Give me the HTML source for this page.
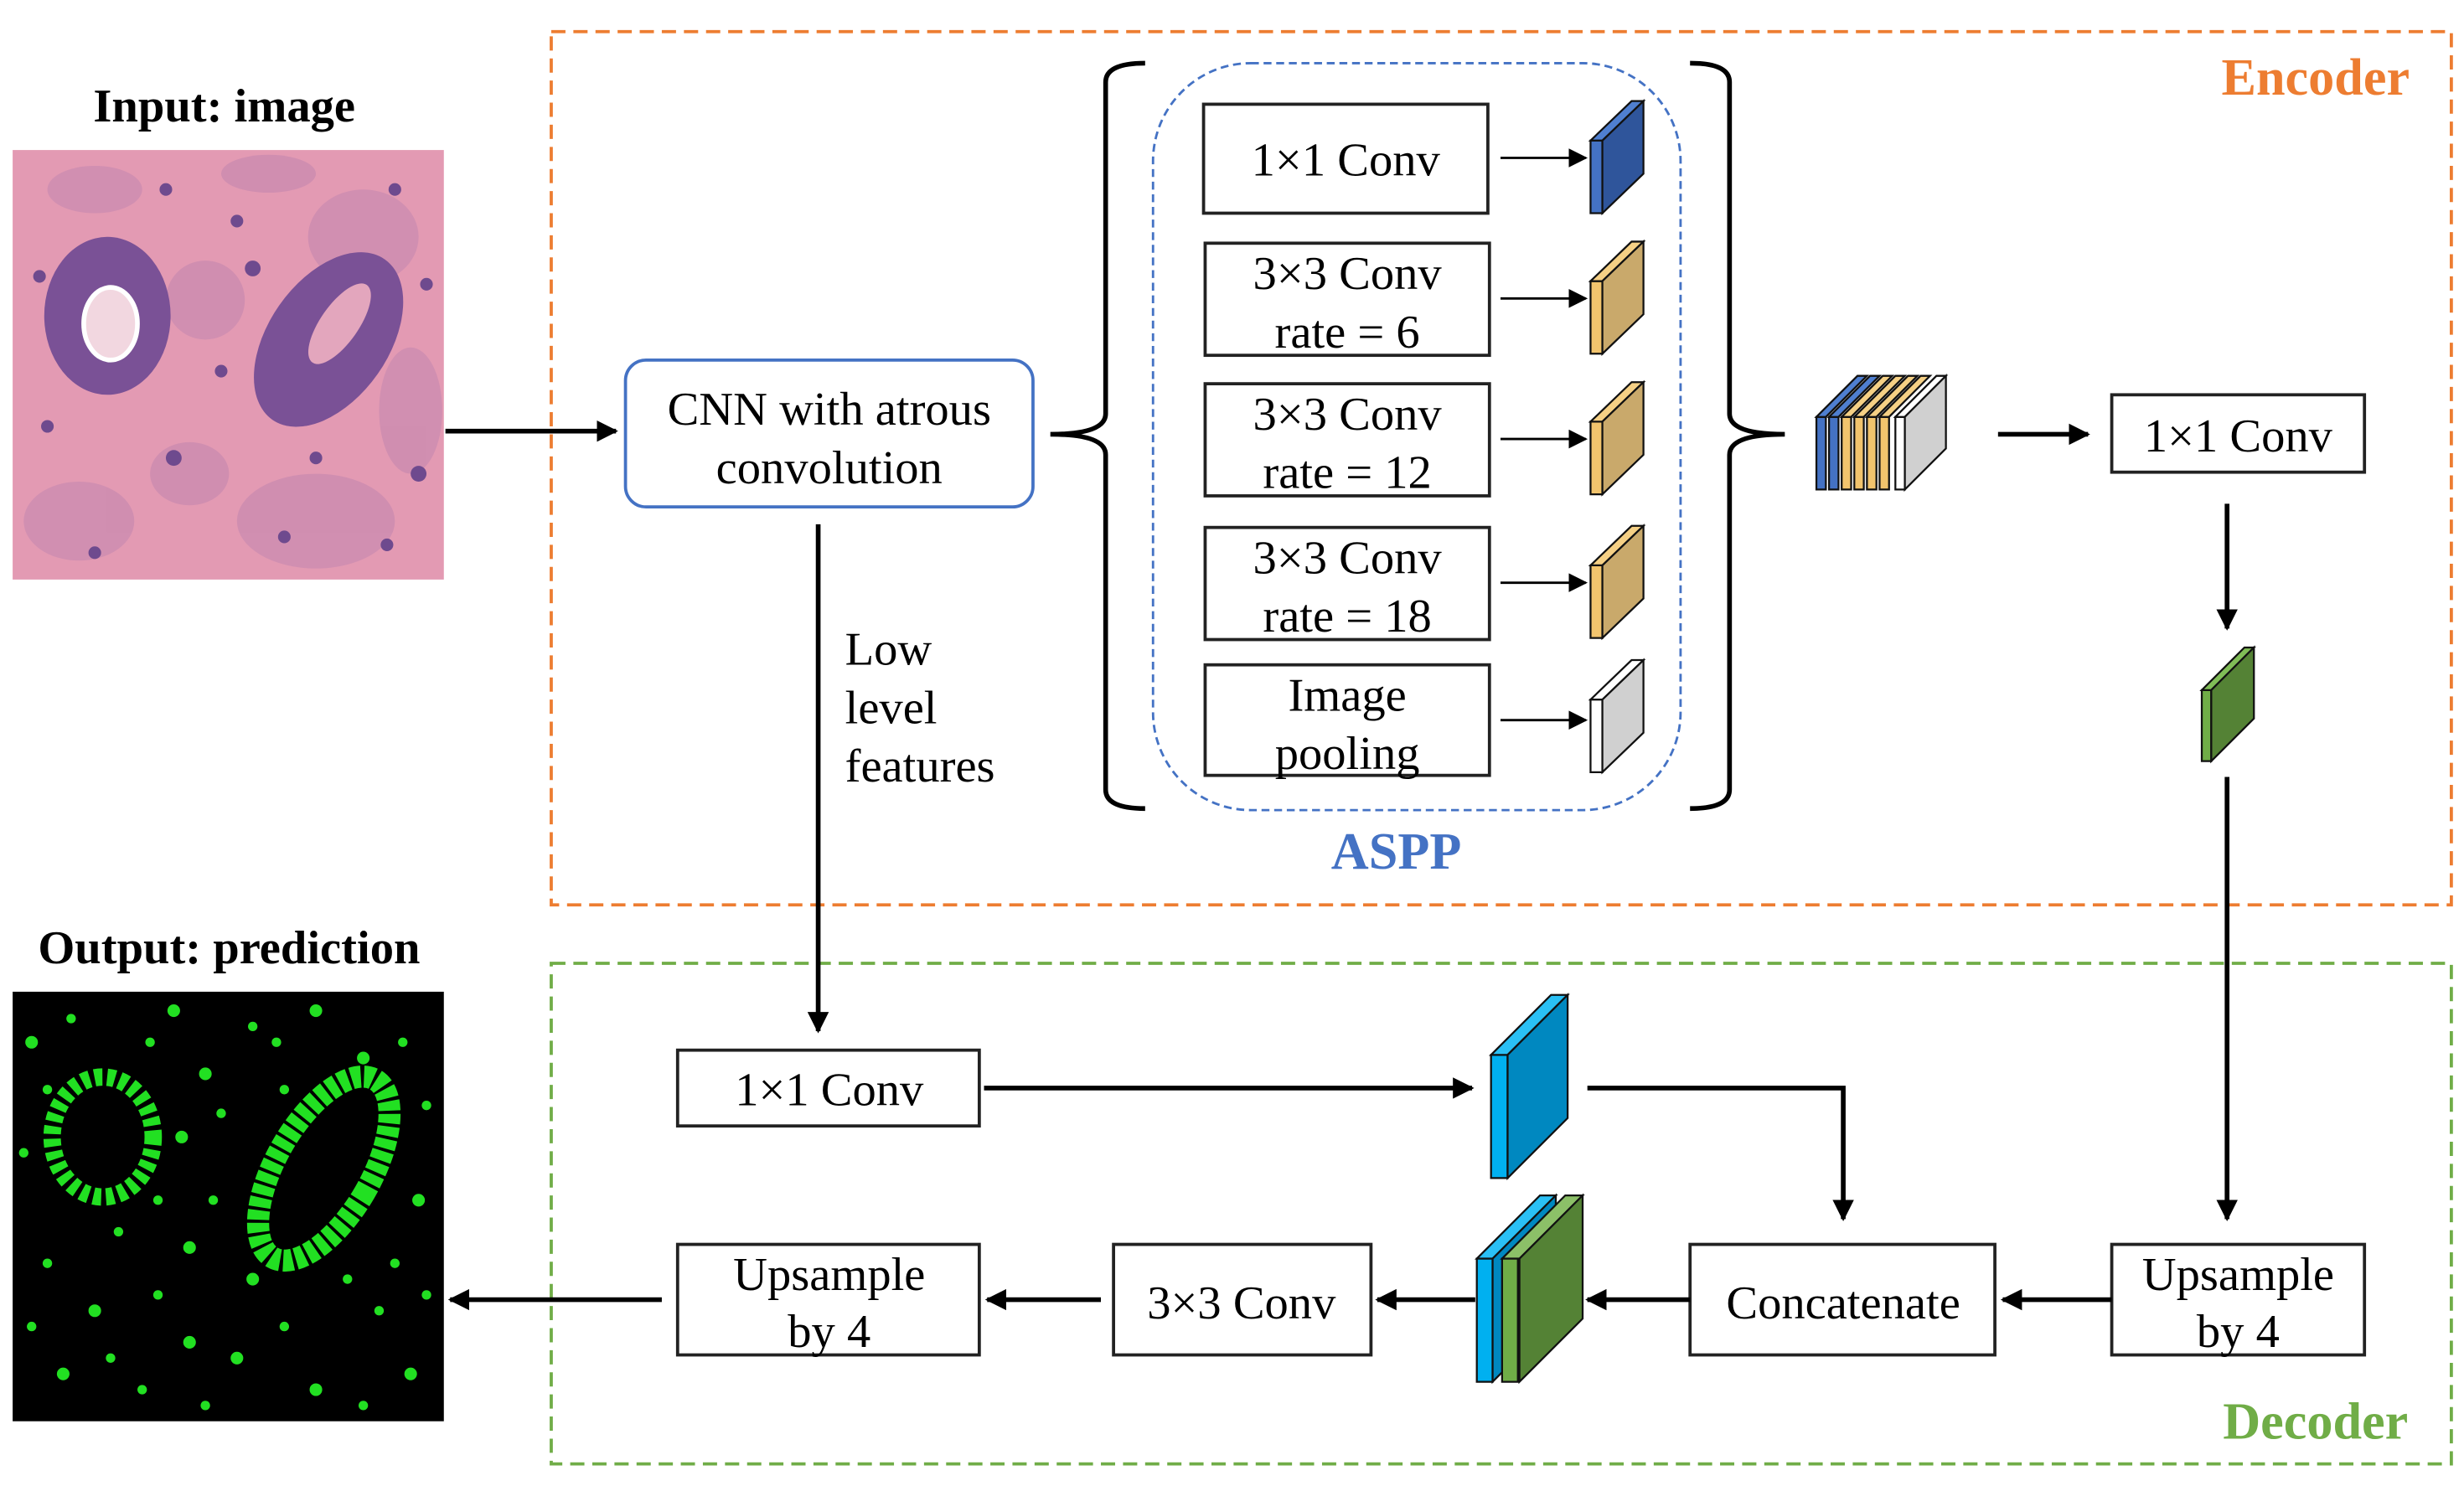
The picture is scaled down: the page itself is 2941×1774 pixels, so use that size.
<!DOCTYPE html>
<html><head><meta charset="utf-8"><style>
html,body{margin:0;padding:0;background:#fff;}
svg{display:block;}
text{font-family:"Liberation Serif",serif;}
</style></head><body>
<svg width="2941" height="1774" viewBox="0 0 1560 941" xmlns="http://www.w3.org/2000/svg">
<defs>
<marker id="ah" viewBox="0 0 10 10" refX="9" refY="5" markerWidth="4.5" markerHeight="4.5" orient="auto" markerUnits="strokeWidth"><path d="M0,0 L10,5 L0,10 z" fill="#000"/></marker>
<marker id="ahs" viewBox="0 0 10 10" refX="9" refY="5" markerWidth="8" markerHeight="8" orient="auto" markerUnits="strokeWidth"><path d="M0,0 L10,5 L0,10 z" fill="#000"/></marker>
</defs>
<rect width="1560" height="941" fill="#fff"/>

<rect x="349" y="20" width="1203" height="553" fill="none" stroke="#ED7D31" stroke-width="2" stroke-dasharray="9,5"/>
<text x="1466" y="60" font-size="33" font-weight="bold" fill="#ED7D31" text-anchor="middle">Encoder</text>
<rect x="349" y="610" width="1203" height="317" fill="none" stroke="#70AD47" stroke-width="2" stroke-dasharray="9,5"/>
<text x="1466" y="911" font-size="33" font-weight="bold" fill="#70AD47" text-anchor="middle">Decoder</text>

<!-- Input image -->
<text x="142" y="77" font-size="30" font-weight="bold" text-anchor="middle">Input: image</text>
<rect x="8" y="95" width="273" height="272" fill="#e39ab3"/>
<g fill="#c98ab0" opacity="0.7">
<ellipse cx="60" cy="120" rx="30" ry="15"/><ellipse cx="230" cy="150" rx="35" ry="30"/><ellipse cx="170" cy="110" rx="30" ry="12"/>
<ellipse cx="50" cy="330" rx="35" ry="25"/><ellipse cx="200" cy="330" rx="50" ry="30"/><ellipse cx="120" cy="300" rx="25" ry="20"/>
<ellipse cx="260" cy="260" rx="20" ry="40"/><ellipse cx="130" cy="190" rx="25" ry="25"/>
</g>
<ellipse cx="68" cy="200" rx="40" ry="50" fill="#7a5196"/>
<ellipse cx="70" cy="205" rx="17" ry="23" fill="#f2d7e0" stroke="#fff" stroke-width="3"/>
<ellipse cx="208" cy="215" rx="38" ry="62" transform="rotate(35 208 215)" fill="#7a5196"/>
<ellipse cx="215" cy="205" rx="12" ry="30" transform="rotate(35 215 205)" fill="#e3a6bd"/>
<g fill="#6e4a8e">
<circle cx="105" cy="120" r="4"/><circle cx="25" cy="175" r="4"/><circle cx="160" cy="170" r="5"/><circle cx="140" cy="235" r="4"/>
<circle cx="250" cy="120" r="4"/><circle cx="270" cy="180" r="4"/><circle cx="110" cy="290" r="5"/><circle cx="245" cy="345" r="4"/>
<circle cx="180" cy="340" r="4"/><circle cx="60" cy="350" r="4"/><circle cx="30" cy="270" r="4"/><circle cx="200" cy="290" r="4"/>
<circle cx="150" cy="140" r="4"/><circle cx="265" cy="300" r="5"/>
</g>

<!-- Output image -->
<text x="145" y="610" font-size="30" font-weight="bold" text-anchor="middle">Output: prediction</text>
<rect x="8" y="628" width="273" height="272" fill="#000"/>
<g fill="#22e022">
<ellipse cx="65" cy="720" rx="32" ry="38" fill="none" stroke="#22e022" stroke-width="11" stroke-dasharray="5,3"/>
<ellipse cx="205" cy="740" rx="30" ry="65" transform="rotate(30 205 740)" fill="none" stroke="#22e022" stroke-width="14" stroke-dasharray="6,2"/>
<circle cx="20" cy="660" r="4"/><circle cx="45" cy="645" r="3"/><circle cx="110" cy="640" r="4"/><circle cx="160" cy="650" r="3"/><circle cx="200" cy="640" r="4"/><circle cx="255" cy="660" r="3"/>
<circle cx="130" cy="680" r="4"/><circle cx="140" cy="705" r="3"/><circle cx="115" cy="720" r="4"/><circle cx="135" cy="760" r="3"/><circle cx="120" cy="790" r="4"/>
<circle cx="270" cy="700" r="3"/><circle cx="265" cy="760" r="4"/><circle cx="30" cy="800" r="3"/><circle cx="60" cy="830" r="4"/><circle cx="100" cy="820" r="3"/>
<circle cx="40" cy="870" r="4"/><circle cx="90" cy="880" r="3"/><circle cx="150" cy="860" r="4"/><circle cx="180" cy="840" r="3"/><circle cx="200" cy="880" r="4"/>
<circle cx="240" cy="830" r="3"/><circle cx="260" cy="870" r="4"/><circle cx="220" cy="810" r="3"/><circle cx="160" cy="810" r="4"/><circle cx="75" cy="780" r="3"/>
<circle cx="15" cy="730" r="3"/><circle cx="230" cy="670" r="4"/><circle cx="180" cy="690" r="3"/><circle cx="270" cy="820" r="3"/><circle cx="120" cy="850" r="4"/>
<circle cx="30" cy="690" r="3"/><circle cx="95" cy="660" r="3"/><circle cx="175" cy="660" r="3"/><circle cx="250" cy="700" r="3"/><circle cx="100" cy="760" r="3"/>
<circle cx="20" cy="840" r="3"/><circle cx="70" cy="860" r="3"/><circle cx="130" cy="890" r="3"/><circle cx="230" cy="890" r="3"/><circle cx="250" cy="800" r="3"/>
</g>

<line x1="282" y1="273" x2="390" y2="273" stroke="#000" stroke-width="3" marker-end="url(#ah)"/>

<rect x="396" y="228" width="258" height="93" rx="13" fill="#fff" stroke="#4472C4" stroke-width="2"/>
<text x="525" y="269" font-size="30" text-anchor="middle">CNN with  atrous</text>
<text x="525" y="306" font-size="30" text-anchor="middle">convolution</text>

<path d="M725,40 Q700,40 700,52 L700,262 Q700,275 665,275 Q700,275 700,288 L700,500 Q700,512 725,512" fill="none" stroke="#000" stroke-width="3"/>
<path d="M1070,40 Q1095,40 1095,52 L1095,262 Q1095,275 1130,275 Q1095,275 1095,288 L1095,500 Q1095,512 1070,512" fill="none" stroke="#000" stroke-width="3"/>

<rect x="730" y="40" width="334" height="473" rx="62" fill="none" stroke="#4472C4" stroke-width="1.5" stroke-dasharray="5,3"/>
<text x="884" y="550" font-size="33" font-weight="bold" fill="#4472C4" text-anchor="middle">ASPP</text>

<g stroke="#222" stroke-width="2" fill="#fff">
<rect x="762" y="66" width="180" height="69"/>
<rect x="763" y="154" width="180" height="71"/>
<rect x="763" y="243" width="180" height="71"/>
<rect x="763" y="334" width="180" height="71"/>
<rect x="763" y="421" width="180" height="70"/>
</g>
<g font-size="30" text-anchor="middle">
<text x="852" y="111">1×1 Conv</text>
<text x="853" y="183">3×3 Conv</text><text x="853" y="220">rate = 6</text>
<text x="853" y="272">3×3 Conv</text><text x="853" y="309">rate = 12</text>
<text x="853" y="363">3×3 Conv</text><text x="853" y="400">rate = 18</text>
<text x="853" y="450">Image</text><text x="853" y="487">pooling</text>
</g>
<g stroke="#000" stroke-width="1.5" marker-end="url(#ahs)">
<line x1="950" y1="100" x2="1004" y2="100"/>
<line x1="950" y1="189" x2="1004" y2="189"/>
<line x1="950" y1="278" x2="1004" y2="278"/>
<line x1="950" y1="369" x2="1004" y2="369"/>
<line x1="950" y1="456" x2="1004" y2="456"/>
</g>

<g stroke="#111" stroke-width="1.2">
<g><path d="M1007,89 h7.5 v46 h-7.5 z" fill="#4472C4"/><path d="M1007,89 l26,-25 h7.5 l-26,25 z" fill="#4f7fd0"/><path d="M1014.5,89 l26,-25 v46 l-26,25 z" fill="#2f559b"/></g>
<g><path d="M1007,178 h7.5 v46 h-7.5 z" fill="#f2c46d"/><path d="M1007,178 l26,-25 h7.5 l-26,25 z" fill="#f5d085"/><path d="M1014.5,178 l26,-25 v46 l-26,25 z" fill="#c9a96b"/></g>
<g><path d="M1007,267 h7.5 v46 h-7.5 z" fill="#f2c46d"/><path d="M1007,267 l26,-25 h7.5 l-26,25 z" fill="#f5d085"/><path d="M1014.5,267 l26,-25 v46 l-26,25 z" fill="#c9a96b"/></g>
<g><path d="M1007,358 h7.5 v46 h-7.5 z" fill="#f2c46d"/><path d="M1007,358 l26,-25 h7.5 l-26,25 z" fill="#f5d085"/><path d="M1014.5,358 l26,-25 v46 l-26,25 z" fill="#c9a96b"/></g>
<g><path d="M1007,443 h7.5 v46 h-7.5 z" fill="#fff"/><path d="M1007,443 l26,-25 h7.5 l-26,25 z" fill="#fff"/><path d="M1014.5,443 l26,-25 v46 l-26,25 z" fill="#d0d0d0"/></g>

<g><path d="M1200,264 h6 v46 h-6 z" fill="#fff"/><path d="M1200,264 l26,-26 h6 l-26,26 z" fill="#fff"/><path d="M1206,264 l26,-26 v46 l-26,26 z" fill="#d0d0d0"/></g>
<g><path d="M1190,264 h6 v46 h-6 z" fill="#f2c46d"/><path d="M1190,264 l26,-26 h6 l-26,26 z" fill="#f5d085"/></g>
<g><path d="M1182,264 h6 v46 h-6 z" fill="#f2c46d"/><path d="M1182,264 l26,-26 h6 l-26,26 z" fill="#f5d085"/></g>
<g><path d="M1174,264 h6 v46 h-6 z" fill="#f2c46d"/><path d="M1174,264 l26,-26 h6 l-26,26 z" fill="#f5d085"/></g>
<g><path d="M1166,264 h6 v46 h-6 z" fill="#f2c46d"/><path d="M1166,264 l26,-26 h6 l-26,26 z" fill="#f5d085"/></g>
<g><path d="M1158,264 h6 v46 h-6 z" fill="#4472C4"/><path d="M1158,264 l26,-26 h6 l-26,26 z" fill="#4f7fd0"/></g>
<g><path d="M1150,264 h6 v46 h-6 z" fill="#4472C4"/><path d="M1150,264 l26,-26 h6 l-26,26 z" fill="#4f7fd0"/></g>

<g><path d="M1394,437 h6 v45 h-6 z" fill="#70AD47"/><path d="M1394,437 l27,-27 h6 l-27,27 z" fill="#80bd57"/><path d="M1400,437 l27,-27 v45 l-27,27 z" fill="#548235"/></g>

<g><path d="M944,668 h10.5 v78 h-10.5 z" fill="#00B0F0"/><path d="M944,668 l38,-38 h10.5 l-38,38 z" fill="#2ac0f5"/><path d="M954.5,668 l38,-38 v78 l-38,38 z" fill="#0088c0"/></g>

<g><path d="M935,797 h10 v78 h-10 z" fill="#00B0F0"/><path d="M935,797 l40,-40 h10 l-40,40 z" fill="#2ac0f5"/><path d="M945,797 l40,-40 v78 l-40,40 z" fill="#0088c0"/></g>
<g><path d="M951,797 h10 v78 h-10 z" fill="#70AD47"/><path d="M951,797 l40,-40 h11 l-40,40 z" fill="#8cc068"/><path d="M962,797 l40,-40 v78 l-40,40 z" fill="#548235"/></g>
</g>

<line x1="1265" y1="275" x2="1322" y2="275" stroke="#000" stroke-width="3" marker-end="url(#ah)"/>
<rect x="1337" y="250" width="160" height="49" fill="#fff" stroke="#222" stroke-width="2"/>
<text x="1417" y="286" font-size="30" text-anchor="middle">1×1 Conv</text>
<line x1="1410" y1="319" x2="1410" y2="398" stroke="#000" stroke-width="3" marker-end="url(#ah)"/>
<line x1="1410" y1="492" x2="1410" y2="772" stroke="#000" stroke-width="3" marker-end="url(#ah)"/>

<line x1="518" y1="332" x2="518" y2="653" stroke="#000" stroke-width="3" marker-end="url(#ah)"/>
<g font-size="30"><text x="535" y="421">Low</text><text x="535" y="458">level</text><text x="535" y="495">features</text></g>

<rect x="429" y="665" width="191" height="48" fill="#fff" stroke="#222" stroke-width="2"/>
<text x="525" y="700" font-size="30" text-anchor="middle">1×1 Conv</text>
<line x1="623" y1="689" x2="932" y2="689" stroke="#000" stroke-width="3" marker-end="url(#ah)"/>
<polyline points="1005,689 1167,689 1167,772" fill="none" stroke="#000" stroke-width="3" marker-end="url(#ah)"/>

<g stroke="#222" stroke-width="2" fill="#fff">
<rect x="1337" y="788" width="160" height="70"/>
<rect x="1070" y="788" width="193" height="70"/>
<rect x="705" y="788" width="163" height="70"/>
<rect x="429" y="788" width="191" height="70"/>
</g>
<g font-size="30" text-anchor="middle">
<text x="1417" y="817">Upsample</text><text x="1417" y="853">by 4</text>
<text x="1167" y="835">Concatenate</text>
<text x="786" y="835">3×3 Conv</text>
<text x="525" y="817">Upsample</text><text x="525" y="853">by 4</text>
</g>
<g stroke="#000" stroke-width="3" marker-end="url(#ah)">
<line x1="1337" y1="823" x2="1268" y2="823"/>
<line x1="1070" y1="823" x2="1005" y2="823"/>
<line x1="934" y1="823" x2="872" y2="823"/>
<line x1="697" y1="823" x2="625" y2="823"/>
<line x1="419" y1="823" x2="285" y2="823"/>
</g>
</svg>
</body></html>
